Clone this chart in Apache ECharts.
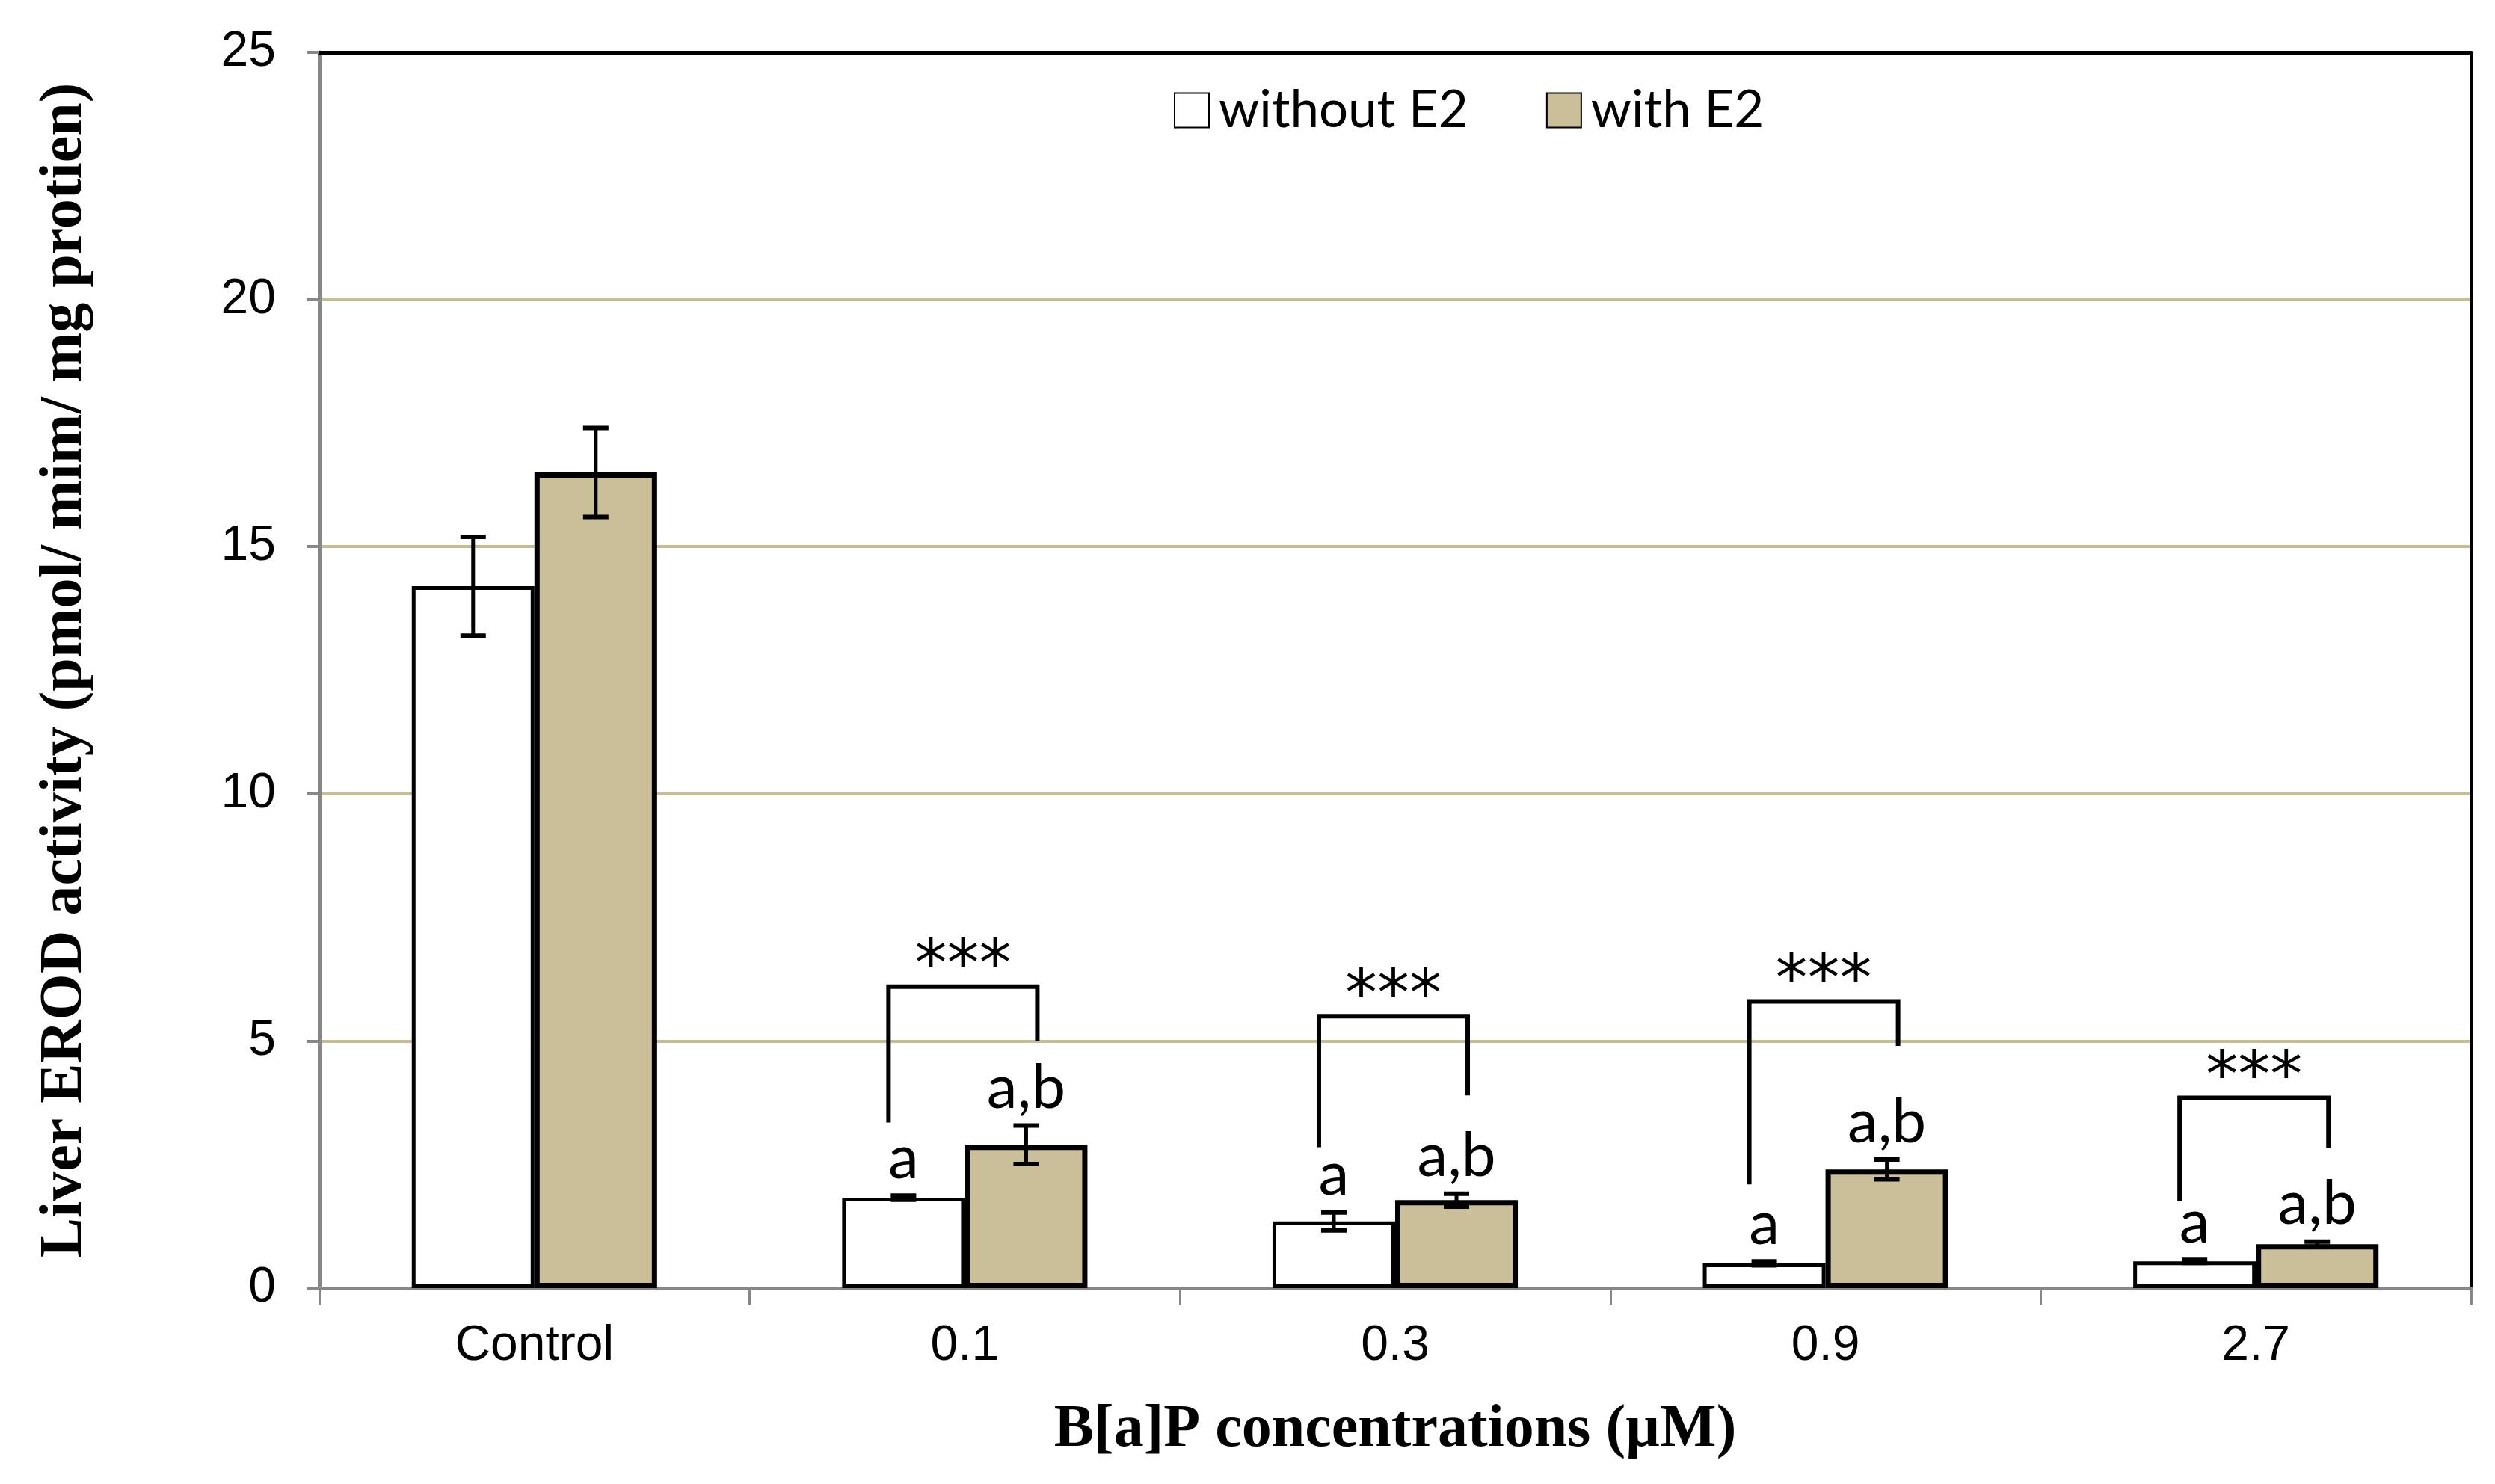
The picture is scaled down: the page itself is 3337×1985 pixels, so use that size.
<!DOCTYPE html>
<html>
<head>
<meta charset="utf-8">
<script src="https://cdn.jsdelivr.net/npm/echarts@6/dist/echarts.min.js"></script>
<style>html,body{margin:0;padding:0;background:#fff;}#c{width:3337px;height:1985px;}</style>
</head>
<body>
<div id="c"></div>
<script>
// ---- data ----
const categories = ['Control', '0.1', '0.3', '0.9', '2.7'];
const yTicks = [0, 5, 10, 15, 20, 25];
const withoutE2 = [14.2, 1.83, 1.35, 0.5, 0.54];
const withoutErr = [1.0, 0.04, 0.18, 0.04, 0.03];
const withE2 = [16.5, 2.9, 1.78, 2.4, 0.89];
const withErr = [0.9, 0.39, 0.13, 0.2, 0.05];
const withoutLetters = ['', 'a', 'a', 'a', 'a'];
const withLetters = ['', 'a,b', 'a,b', 'a,b', 'a,b'];
const bracketTop = [null, 6.1, 5.5, 5.8, 3.85];
const bracketLeftEnd = [null, 3.35, 2.85, 2.1, 1.76];
const bracketRightEnd = [null, 5.0, 3.9, 4.9, 2.84];
const bracketStars = ['', '***', '***', '***', '***'];

// ---- styling ----
const TAN = '#CABF99';
const GRID = '#C7BC92';
const AXIS = '#878787';
const BAR_FRAC = 0.285;

const chart = echarts.init(document.getElementById('c'), null, {renderer: 'canvas'});

function errData(vals, errs, letters) {
  return vals.map((v, i) => [i, v, errs[i], letters[i]]);
}

function errRender(side) {
  return function (params, api) {
    const i = api.value(0), v = api.value(1), e = api.value(2);
    const catW = api.size([1, 0])[0];
    const off = side * catW * BAR_FRAC / 2;
    const c = api.coord([i, v]);
    const x = c[0] + off;
    const top = api.coord([i, v + e])[1];
    const bot = api.coord([i, v - e])[1];
    const cap = 17;
    const st = {stroke: '#000', lineWidth: 5};
    const letter = (side < 0 ? withoutLetters : withLetters)[i];
    return {
      type: 'group',
      children: [
        {type: 'line', shape: {x1: x, y1: top, x2: x, y2: bot}, style: st},
        {type: 'line', shape: {x1: x - cap, y1: top, x2: x + cap, y2: top}, style: {stroke: '#000', lineWidth: 6}},
        {type: 'line', shape: {x1: x - cap, y1: bot, x2: x + cap, y2: bot}, style: {stroke: '#000', lineWidth: 6}},
        {type: 'text', x: x, y: top - 50, style: {text: letter, fill: '#000', font: '82px Lato', align: 'center', verticalAlign: 'middle'}}
      ]
    };
  };
}

function bracketRender(params, api) {
  const i = api.value(0);
  if (bracketTop[i] == null) return null;
  const catW = api.size([1, 0])[0];
  const off = catW * BAR_FRAC / 2;
  const cx = api.coord([i, 0])[0];
  const xl = cx - off - 20;
  const xr = cx + off + 15;
  const yt = api.coord([i, bracketTop[i]])[1];
  const yl = api.coord([i, bracketLeftEnd[i]])[1];
  const yr = api.coord([i, bracketRightEnd[i]])[1];
  return {
    type: 'group',
    children: [
      {type: 'polyline', shape: {points: [[xl, yl], [xl, yt], [xr, yt], [xr, yr]]}, style: {stroke: '#000', lineWidth: 6, fill: null}},
      {type: 'text', x: (xl + xr) / 2, y: yt - 24, style: {text: bracketStars[i], fill: '#000', font: '86px "DejaVu Sans"', align: 'center', verticalAlign: 'middle'}}
    ]
  };
}

const option = {
  backgroundColor: '#fff',
  animation: false,
  grid: {left: 427, right: 32, top: 70, bottom: 262, show: false},
  legend: {
    left: 1565, top: 108,
    itemWidth: 46, itemHeight: 46, itemGap: 104,
    icon: 'rect',
    data: ['without E2', 'with E2'],
    textStyle: {fontFamily: 'Lato', fontSize: 69, color: '#000', padding: [0, 0, 0, 8]}
  },
  xAxis: [{
    type: 'category',
    data: categories,
    name: 'B[a]P concentrations (\u00b5M)',
    nameLocation: 'middle',
    nameGap: 150,
    nameTextStyle: {fontFamily: 'Liberation Serif', fontWeight: 'bold', fontSize: 80, color: '#000'},
    axisLine: {show: true, lineStyle: {color: AXIS, width: 5}},
    axisTick: {show: true, length: 22, lineStyle: {color: AXIS, width: 3}},
    axisLabel: {fontFamily: 'Liberation Sans', fontSize: 66, color: '#000', margin: 45},
    splitLine: {show: false}
  }, {
    type: 'category',
    data: categories,
    position: 'top',
    axisLine: {show: true, onZero: false, lineStyle: {color: '#000', width: 5}},
    axisTick: {show: false},
    axisLabel: {show: false},
    splitLine: {show: false}
  }],
  yAxis: [{
    type: 'value',
    min: yTicks[0], max: yTicks[yTicks.length - 1], interval: yTicks[1] - yTicks[0],
    name: 'Liver EROD activity (pmol/ mim/ mg protien)',
    nameLocation: 'middle',
    nameGap: 300,
    nameTextStyle: {fontFamily: 'Liberation Serif', fontWeight: 'bold', fontSize: 80, color: '#000'},
    axisLine: {show: true, lineStyle: {color: AXIS, width: 5}},
    axisTick: {show: true, length: 17, lineStyle: {color: AXIS, width: 4}},
    axisLabel: {fontFamily: 'Liberation Sans', fontSize: 66, color: '#000', margin: 58},
    splitLine: {show: true, lineStyle: {color: GRID, width: 4}}
  }, {
    type: 'value',
    position: 'right',
    min: yTicks[0], max: yTicks[yTicks.length - 1], interval: yTicks[1] - yTicks[0],
    axisLine: {show: true, onZero: false, lineStyle: {color: '#000', width: 4}},
    axisTick: {show: false},
    axisLabel: {show: false},
    splitLine: {show: false}
  }],
  series: [
    {name: 'without E2', type: 'bar', data: withoutE2, barWidth: (BAR_FRAC * 100) + '%', barGap: '0%',
     itemStyle: {color: '#fff', borderColor: '#000', borderWidth: 5}},
    {name: 'with E2', type: 'bar', data: withE2, barWidth: (BAR_FRAC * 100) + '%', barGap: '0%',
     itemStyle: {color: TAN, borderColor: '#000', borderWidth: 7}},
    {name: 'errWithout', type: 'custom', renderItem: errRender(-1), data: errData(withoutE2, withoutErr, withoutLetters), encode: {x: 0, y: 1}, z: 5},
    {name: 'errWith', type: 'custom', renderItem: errRender(1), data: errData(withE2, withErr, withLetters), encode: {x: 0, y: 1}, z: 5},
    {name: 'brackets', type: 'custom', renderItem: bracketRender, data: categories.map((c, i) => [i, bracketTop[i] == null ? 0 : bracketTop[i]]), encode: {x: 0, y: 1}, z: 6}
  ]
};
chart.setOption(option);
</script>
</body>
</html>
